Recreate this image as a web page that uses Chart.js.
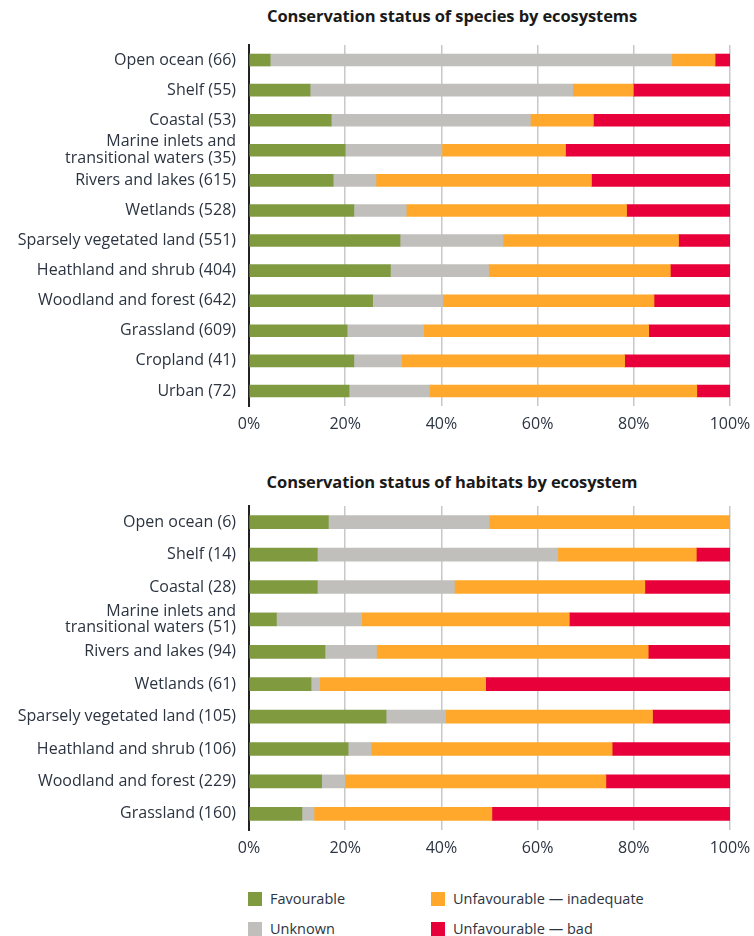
<!DOCTYPE html>
<html>
<head>
<meta charset="utf-8">
<script src="https://cdn.jsdelivr.net/npm/chart.js@4.4.1/dist/chart.umd.min.js"></script>
<style>
  body { margin: 0; background: #fff; font-family: "Open Sans", sans-serif; }
  #page { position: relative; width: 754px; height: 936px; overflow: hidden; }
  .title { position: absolute; left: 0; width: 904px; text-align: center; font-weight: bold; font-size: 16.5px; color: #1a1a1a; letter-spacing: -0.1px; }
  canvas { position: absolute; left: 0; }
  .leg { position: absolute; font-size: 14.5px; color: #2b3440; line-height: 16px; }
  .leg span { display: inline-block; width: 14px; height: 14px; vertical-align: -2px; margin-right: 8px; }
</style>
</head>
<body>
<div id="page">
  <div class="title" style="top:4px">Conservation status of species by ecosystems</div>
  <canvas id="chart1" width="754" height="396" style="top:40px"></canvas>
  <div class="title" style="top:470px">Conservation status of habitats by ecosystem</div>
  <canvas id="chart2" width="754" height="360" style="top:500px"></canvas>
  <div id="legend"></div>
</div>
<script>
// series
const seriesNames = ['Favourable', 'Unknown', 'Unfavourable \u2014 inadequate', 'Unfavourable \u2014 bad'];
const seriesColors = ['#809a40', '#c0bfbb', '#ffa82b', '#e8003a'];

// species (%)
const speciesLabels = ['Open ocean (66)', 'Shelf (55)', 'Coastal (53)', ['Marine inlets and', 'transitional waters (35)'],
  'Rivers and lakes (615)', 'Wetlands (528)', 'Sparsely vegetated land (551)', 'Heathland and shrub (404)',
  'Woodland and forest (642)', 'Grassland (609)', 'Cropland (41)', 'Urban (72)'];
const speciesFavourable = [4.4, 12.7, 17.1, 20.0, 17.5, 21.8, 31.4, 29.4, 25.7, 20.4, 21.8, 20.8];
const speciesUnknown    = [83.5, 54.6, 41.4, 20.1, 8.9, 10.9, 21.4, 20.4, 14.6, 15.9, 9.9, 16.7];
const speciesInadequate = [9.0, 12.6, 13.1, 25.7, 44.8, 45.8, 36.5, 37.8, 43.9, 46.8, 46.4, 55.6];
const speciesBad        = [3.1, 20.1, 28.4, 34.2, 28.8, 21.5, 10.7, 12.4, 15.8, 16.9, 21.9, 6.9];

// habitats (%)
const habitatLabels = ['Open ocean (6)', 'Shelf (14)', 'Coastal (28)', ['Marine inlets and', 'transitional waters (51)'],
  'Rivers and lakes (94)', 'Wetlands (61)', 'Sparsely vegetated land (105)', 'Heathland and shrub (106)',
  'Woodland and forest (229)', 'Grassland (160)'];
const habitatFavourable = [16.5, 14.2, 14.2, 5.7, 15.8, 12.9, 28.5, 20.6, 15.1, 11.0];
const habitatUnknown    = [33.4, 50.0, 28.5, 17.7, 10.7, 1.8, 12.4, 4.8, 4.8, 2.5];
const habitatInadequate = [50.1, 28.8, 39.6, 43.2, 56.5, 34.5, 43.0, 50.1, 54.3, 37.0];
const habitatBad        = [0, 7.0, 17.7, 33.4, 17.0, 50.8, 16.1, 24.5, 25.8, 49.5];

const tickFont = { family: 'Open Sans', size: 16, lineHeight: 1.05 };
const textColor = '#2b3440';

function makeChart(id, labels, values, thickness, padTop) {
  const ctx = document.getElementById(id);
  return new Chart(ctx, {
    type: 'bar',
    data: {
      labels: labels,
      datasets: values.map((v, i) => ({
        label: seriesNames[i],
        data: v,
        backgroundColor: seriesColors[i],
        borderWidth: 0,
        barThickness: thickness
      }))
    },
    options: {
      indexAxis: 'y',
      responsive: false,
      animation: false,
      layout: { padding: { top: padTop, right: 24 } },
      plugins: { legend: { display: false }, tooltip: { enabled: false } },
      scales: {
        x: {
          stacked: true,
          min: 0, max: 100,
          ticks: { stepSize: 20, callback: v => v + '%', color: textColor, font: tickFont, padding: 10 },
          grid: { color: '#c8c8c8', lineWidth: 1.5, drawTicks: false },
          border: { display: false },
          afterFit: s => { s.height = 30; s.paddingLeft = 0; s.paddingRight = 0; }
        },
        y: {
          stacked: true,
          ticks: { color: textColor, font: tickFont, padding: 13, autoSkip: false },
          grid: { display: false, drawTicks: false },
          border: { color: '#222', width: 2 },
          afterFit: s => { s.width = 249; s.paddingTop = 0; s.paddingBottom = 0; }
        }
      }
    }
  });
}

makeChart('chart1', speciesLabels, [speciesFavourable, speciesUnknown, speciesInadequate, speciesBad], 12, 5);
makeChart('chart2', habitatLabels, [habitatFavourable, habitatUnknown, habitatInadequate, habitatBad], 13, 6);

// legend, two columns
const legend = document.getElementById('legend');
const legPos = [[248, 891], [248, 921], [431, 891], [431, 921]];
seriesNames.forEach((name, k) => {
  const d = document.createElement('div');
  d.className = 'leg';
  d.style.left = legPos[k][0] + 'px';
  d.style.top = legPos[k][1] + 'px';
  d.innerHTML = `<span style="background:${seriesColors[k]}"></span>${name}`;
  legend.append(d);
});
</script>
</body>
</html>
